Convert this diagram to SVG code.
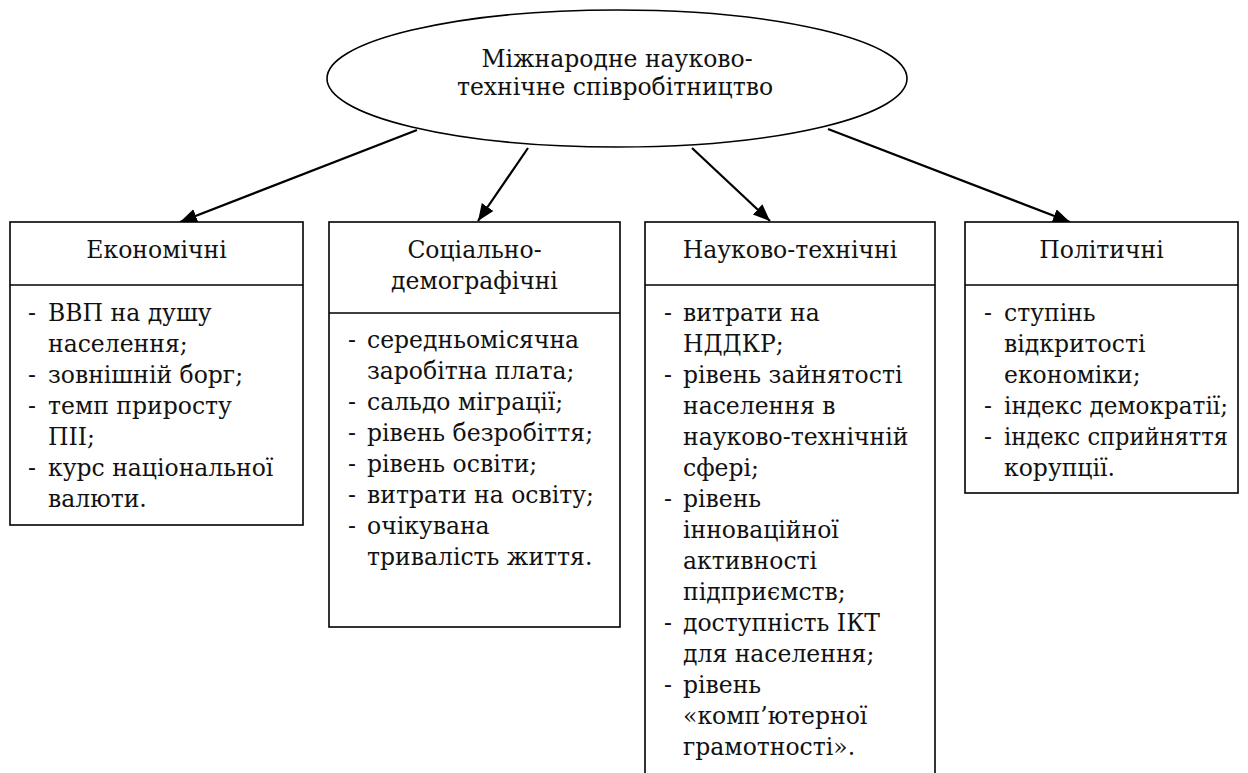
<svg xmlns="http://www.w3.org/2000/svg" width="1248" height="773" viewBox="0 0 1248 773">
<style>
  .box { fill: #fff; stroke: #000; stroke-width: 1.6; }
  .div { stroke: #000; stroke-width: 1.6; }
  .t { font-family: "DejaVu Serif", serif; font-size: 23.5px; fill: #111; }
  .c { text-anchor: middle; }
  .conn { stroke: #000; stroke-width: 2.2; fill: none; marker-end: url(#arr); }
</style>
<defs>
  <marker id="arr" markerUnits="userSpaceOnUse" markerWidth="20" markerHeight="16" refX="17" refY="7" orient="auto">
    <path d="M0,0 L17,7 L0,14 Z" fill="#000"/>
  </marker>
</defs>
<rect width="1248" height="773" fill="#fff"/>

<g id="root">
  <ellipse cx="617" cy="78.5" rx="290" ry="68.5" fill="#fff" stroke="#000" stroke-width="1.6"/>
  <text class="t c" x="617" y="67">Міжнародне науково-</text>
  <text class="t c" x="615" y="95">технічне співробітництво</text>
</g>

<g id="connectors">
  <line class="conn" x1="417" y1="130" x2="180" y2="222"/>
  <line class="conn" x1="528" y1="148" x2="478" y2="221"/>
  <line class="conn" x1="692" y1="148" x2="770" y2="221"/>
  <line class="conn" x1="828" y1="129" x2="1070" y2="222"/>
</g>

<g id="economic">
  <rect class="box" x="10" y="222" width="293" height="303"/>
  <line class="div" x1="10" y1="285" x2="303" y2="285"/>
  <text class="t c" x="156.5" y="258">Економічні</text>
  <text class="t" x="28" y="321">-</text>
  <text class="t" x="48" y="321">ВВП на душу</text>
  <text class="t" x="48" y="352">населення;</text>
  <text class="t" x="28" y="383">-</text>
  <text class="t" x="48" y="383">зовнішній борг;</text>
  <text class="t" x="28" y="414">-</text>
  <text class="t" x="48" y="414">темп приросту</text>
  <text class="t" x="48" y="445">ПІІ;</text>
  <text class="t" x="28" y="476">-</text>
  <text class="t" x="48" y="476">курс національної</text>
  <text class="t" x="48" y="507">валюти.</text>
</g>

<g id="social">
  <rect class="box" x="329" y="222" width="291" height="405"/>
  <line class="div" x1="329" y1="313" x2="620" y2="313"/>
  <text class="t c" x="474.5" y="258">Соціально-</text>
  <text class="t c" x="474.5" y="289">демографічні</text>
  <text class="t" x="348" y="348">-</text>
  <text class="t" x="367" y="348">середньомісячна</text>
  <text class="t" x="367" y="379">заробітна плата;</text>
  <text class="t" x="348" y="410">-</text>
  <text class="t" x="367" y="410">сальдо міграції;</text>
  <text class="t" x="348" y="441">-</text>
  <text class="t" x="367" y="441">рівень безробіття;</text>
  <text class="t" x="348" y="472">-</text>
  <text class="t" x="367" y="472">рівень освіти;</text>
  <text class="t" x="348" y="503">-</text>
  <text class="t" x="367" y="503">витрати на освіту;</text>
  <text class="t" x="348" y="534">-</text>
  <text class="t" x="367" y="534">очікувана</text>
  <text class="t" x="367" y="565">тривалість життя.</text>
</g>

<g id="scitech">
  <rect class="box" x="645" y="222" width="290" height="560"/>
  <line class="div" x1="645" y1="285" x2="935" y2="285"/>
  <text class="t c" x="790" y="258">Науково-технічні</text>
  <text class="t" x="664" y="321">-</text>
  <text class="t" x="683" y="321">витрати на</text>
  <text class="t" x="683" y="352">НДДКР;</text>
  <text class="t" x="664" y="383">-</text>
  <text class="t" x="683" y="383">рівень зайнятості</text>
  <text class="t" x="683" y="414">населення в</text>
  <text class="t" x="683" y="445">науково-технічній</text>
  <text class="t" x="683" y="476">сфері;</text>
  <text class="t" x="664" y="507">-</text>
  <text class="t" x="683" y="507">рівень</text>
  <text class="t" x="683" y="538">інноваційної</text>
  <text class="t" x="683" y="569">активності</text>
  <text class="t" x="683" y="600">підприємств;</text>
  <text class="t" x="664" y="631">-</text>
  <text class="t" x="683" y="631">доступність ІКТ</text>
  <text class="t" x="683" y="662">для населення;</text>
  <text class="t" x="664" y="693">-</text>
  <text class="t" x="683" y="693">рівень</text>
  <text class="t" x="683" y="724">«комп’ютерної</text>
  <text class="t" x="683" y="755">грамотності».</text>
</g>

<g id="political">
  <rect class="box" x="965" y="222" width="273" height="271"/>
  <line class="div" x1="965" y1="285" x2="1238" y2="285"/>
  <text class="t c" x="1101.5" y="258">Політичні</text>
  <text class="t" x="984" y="321">-</text>
  <text class="t" x="1004" y="321">ступінь</text>
  <text class="t" x="1004" y="352">відкритості</text>
  <text class="t" x="1004" y="383">економіки;</text>
  <text class="t" x="984" y="414">-</text>
  <text class="t" x="1004" y="414" textLength="224" lengthAdjust="spacingAndGlyphs">індекс демократії;</text>
  <text class="t" x="984" y="445">-</text>
  <text class="t" x="1004" y="445" textLength="224" lengthAdjust="spacingAndGlyphs">індекс сприйняття</text>
  <text class="t" x="1004" y="476">корупції.</text>
</g>
</svg>
